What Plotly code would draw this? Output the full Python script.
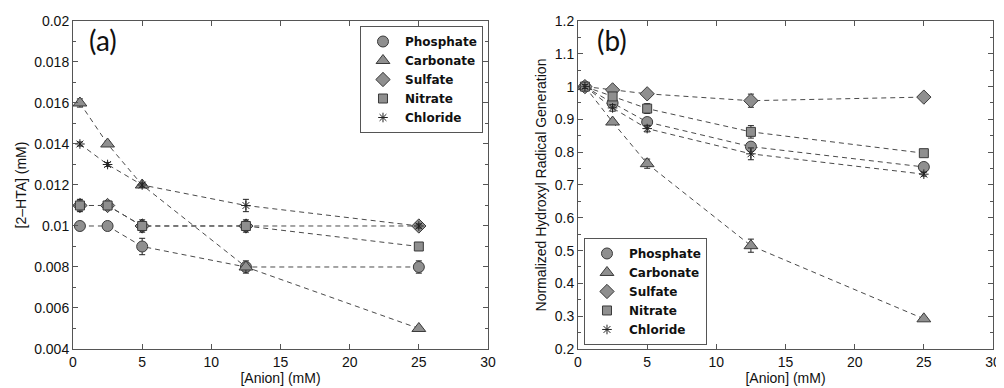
import plotly.graph_objects as go

anion_mM = [0.5, 2.5, 5, 12.5, 25]
series_names = ["Phosphate", "Carbonate", "Sulfate", "Nitrate", "Chloride"]

# Panel (a): [2-HTA] (mM)
hta_phosphate = [0.010, 0.010, 0.009, 0.008, 0.008]
hta_carbonate = [0.016, 0.014, 0.012, 0.008, 0.005]
hta_sulfate = [0.011, 0.011, 0.010, 0.010, 0.010]
hta_nitrate = [0.011, 0.011, 0.010, 0.010, 0.009]
hta_chloride = [0.014, 0.013, 0.012, 0.011, 0.010]
hta_err_phosphate = [0.0001, 0.0001, 0.0004, 0.0002, 0.0003]
hta_err_carbonate = [0.0002, 0.0001, 0.0001, 0.0003, 0.0001]
hta_err_sulfate = [0.0002, 0.0001, 0.0002, 0.0002, 0.0001]
hta_err_nitrate = [0.0003, 0.0002, 0.0003, 0.0003, 0.0001]
hta_err_chloride = [0.0001, 0.0001, 0.0001, 0.0003, 0.0001]

# Panel (b): normalized hydroxyl radical generation
norm_phosphate = [1.0, 0.95, 0.892, 0.817, 0.755]
norm_carbonate = [1.0, 0.892, 0.765, 0.515, 0.292]
norm_sulfate = [1.0, 0.99, 0.978, 0.957, 0.968]
norm_nitrate = [1.0, 0.97, 0.933, 0.862, 0.797]
norm_chloride = [1.0, 0.935, 0.872, 0.795, 0.733]
norm_err_phosphate = [0.006, 0.008, 0.012, 0.010, 0.008]
norm_err_carbonate = [0.006, 0.005, 0.014, 0.020, 0.004]
norm_err_sulfate = [0.006, 0.006, 0.008, 0.020, 0.008]
norm_err_nitrate = [0.006, 0.008, 0.015, 0.019, 0.005]
norm_err_chloride = [0.006, 0.010, 0.010, 0.018, 0.006]

x_ticks = [0, 5, 10, 15, 20, 25, 30]
x_ticklabels = ["0", "5", "10", "15", "20", "25", "30"]
ya_ticks = [0.004, 0.006, 0.008, 0.010, 0.012, 0.014, 0.016, 0.018, 0.020]
ya_ticklabels = ["0.004", "0.006", "0.008", "0.01", "0.012", "0.014", "0.016", "0.018", "0.02"]
yb_ticks = [0.2, 0.3, 0.4, 0.5, 0.6, 0.7, 0.8, 0.9, 1.0, 1.1, 1.2]
yb_ticklabels = ["0.2", "0.3", "0.4", "0.5", "0.6", "0.7", "0.8", "0.9", "1", "1.1", "1.2"]

symbols = {"Phosphate": "circle", "Carbonate": "triangle-up", "Sulfate": "diamond",
           "Nitrate": "square", "Chloride": "asterisk-open"}
sizes = {"Phosphate": 11, "Carbonate": 12, "Sulfate": 11, "Nitrate": 9, "Chloride": 8}

FILL = "#8f8f8f"
EDGE = "#3a3a3a"
LINE = "#4a4a4a"
FONT = "Liberation Sans, Arial, sans-serif"
LEGFONT = "DejaVu Sans, sans-serif"
TXT = "#111111"

panel_a = {"Phosphate": (hta_phosphate, hta_err_phosphate),
           "Carbonate": (hta_carbonate, hta_err_carbonate),
           "Sulfate": (hta_sulfate, hta_err_sulfate),
           "Nitrate": (hta_nitrate, hta_err_nitrate),
           "Chloride": (hta_chloride, hta_err_chloride)}
panel_b = {"Phosphate": (norm_phosphate, norm_err_phosphate),
           "Carbonate": (norm_carbonate, norm_err_carbonate),
           "Sulfate": (norm_sulfate, norm_err_sulfate),
           "Nitrate": (norm_nitrate, norm_err_nitrate),
           "Chloride": (norm_chloride, norm_err_chloride)}

fig = go.Figure()


def add_panel(data, xa, ya, legend):
    for name in series_names:
        yv, _ = data[name]
        fig.add_trace(go.Scatter(x=anion_mM, y=yv, mode="lines", xaxis=xa, yaxis=ya,
                                 line=dict(color=LINE, width=1, dash="5px,4px"),
                                 showlegend=False, hoverinfo="skip"))
    for name in series_names:
        yv, ev = data[name]
        sym = symbols[name]
        if sym == "asterisk-open":
            marker = dict(symbol=sym, size=sizes[name], color="#222222",
                          line=dict(color="#222222", width=1))
        else:
            marker = dict(symbol=sym, size=sizes[name], color=FILL,
                          line=dict(color=EDGE, width=1))
        fig.add_trace(go.Scatter(x=anion_mM, y=yv, mode="markers", name=name,
                                 xaxis=xa, yaxis=ya, legend=legend, marker=marker,
                                 error_y=dict(type="data", array=ev, visible=True,
                                              color="#222222", thickness=1, width=3)))


add_panel(panel_a, "x", "y", "legend")
add_panel(panel_b, "x2", "y2", "legend2")

axis_common = dict(showline=True, linecolor="#555555", linewidth=1, mirror="ticks",
                   ticks="inside", ticklen=5, tickcolor="#555555", showgrid=False,
                   zeroline=False, automargin=False,
                   tickfont=dict(family=FONT, size=14, color=TXT))


def ttl(text, standoff):
    return dict(text=text, standoff=standoff, font=dict(family=FONT, size=14, color=TXT))


legend_common = dict(bgcolor="white", bordercolor="#555555", borderwidth=1,
                     font=dict(family=LEGFONT, size=12, weight="bold", color=TXT),
                     itemwidth=34, tracegroupgap=0)

# the page body has an 8px margin, so the figure is 8px smaller than the window
fig.update_layout(
    width=996, height=380,
    margin=dict(l=0, r=0, t=0, b=0, autoexpand=False),
    paper_bgcolor="white", plot_bgcolor="white",
    font=dict(family=FONT, size=14, color=TXT),
    xaxis=dict(domain=[0.06526, 0.48193], range=[0, 30], tickvals=x_ticks,
               ticktext=x_ticklabels, title=ttl("[Anion] (mM)", 2), anchor="y", **axis_common),
    yaxis=dict(domain=[0.10263, 0.96579], range=[0.004, 0.020], tickvals=ya_ticks,
               ticktext=ya_ticklabels, anchor="x",
               minor=dict(tickvals=[0.005, 0.007, 0.009, 0.011, 0.013, 0.015, 0.017, 0.019],
                          ticks="inside", ticklen=3, tickcolor="#555555"),
               title=ttl("[2\u2013HTA] (mM)", 4), **axis_common),
    xaxis2=dict(domain=[0.57229, 0.98896], range=[0, 30], tickvals=x_ticks,
                ticktext=x_ticklabels, title=ttl("[Anion] (mM)", 2), anchor="y2",
                **axis_common),
    yaxis2=dict(domain=[0.10263, 0.96579], range=[0.2, 1.2], tickvals=yb_ticks,
                ticktext=yb_ticklabels, anchor="x2",
                minor=dict(tickvals=[0.25, 0.35, 0.45, 0.55, 0.65, 0.75, 0.85, 0.95, 1.05, 1.15],
                           ticks="inside", ticklen=3, tickcolor="#555555"),
                title=ttl("Normalized Hydroxyl Radical Generation", 4),
                **axis_common),
    legend=dict(x=0.4769, y=0.9526, xanchor="right", yanchor="top", **legend_common),
    legend2=dict(x=0.5783, y=0.1132, xanchor="left", yanchor="bottom", **legend_common),
    annotations=[
        dict(text="(a)", x=0.0793, y=0.9158, xref="paper", yref="paper", xanchor="left",
             yanchor="middle", showarrow=False,
             font=dict(family="Lato, sans-serif", size=28, color=TXT)),
        dict(text="(b)", x=0.5894, y=0.9158, xref="paper", yref="paper", xanchor="left",
             yanchor="middle", showarrow=False,
             font=dict(family="Lato, sans-serif", size=28, color=TXT)),
    ],
)

fig.write_html("out.html")
